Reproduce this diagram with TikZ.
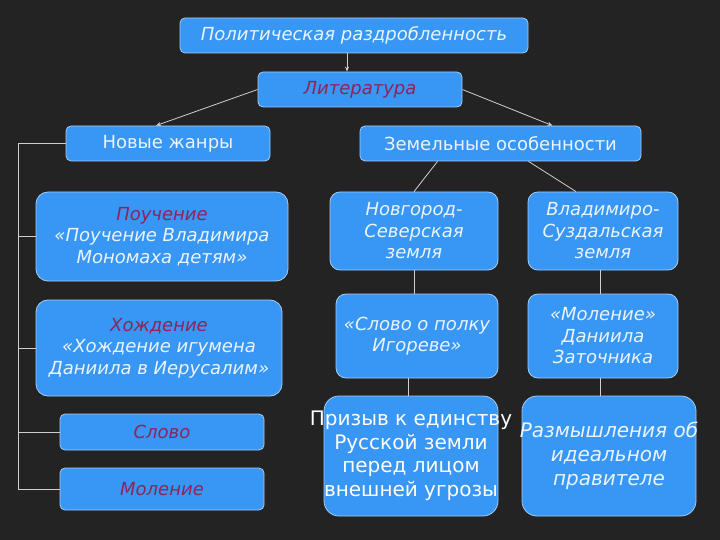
\documentclass[tikz,border=0pt]{standalone}
\usepackage{fontspec}
\setmainfont{DejaVu Sans}
\usetikzlibrary{arrows.meta,positioning}
\definecolor{bgdark}{HTML}{232323}
\definecolor{boxblue}{HTML}{3896F4}
\definecolor{boxline}{HTML}{A4CCF2}
\definecolor{lighttext}{HTML}{EAF4FF}
\definecolor{redtext}{HTML}{8E2458}
\definecolor{linkgray}{HTML}{CFCFCF}
\newcommand{\hl}[1]{\textcolor{redtext}{#1}}
\begin{document}
\begin{tikzpicture}[x=1pt,y=1pt, >={Stealth[length=5pt,width=4pt]},
  box/.style={draw=boxline, line width=0.8pt, fill=boxblue, rounded corners=5pt, align=center,
    text=lighttext, font=\fontsize{18}{21.5}\selectfont, inner sep=2pt},
  bigbox/.style={box, rounded corners=12pt},
  link/.style={draw=linkgray, line width=0.8pt}]
\useasboundingbox[fill=bgdark] (0,0) rectangle (720,-540);
% top of the scheme
\node[box, minimum width=348, minimum height=35, font=\fontsize{18}{21.5}\selectfont\itshape] (polit) at (354,-35.5) {Политическая раздробленность};
\node[box, minimum width=204, minimum height=35, font=\fontsize{18}{21.5}\selectfont\itshape] (lit) at (360,-89.5) {\hl{Литература}};
\draw[link,->] (polit.south -| 347,0) -- (lit.north -| 347,0);
\node[box, minimum width=204, minimum height=35] (genres) at (168,-143.5) {Новые жанры};
\node[box, minimum width=281, minimum height=35] (zem) at (500.5,-143.5) {Земельные особенности};
\draw[link,->] (lit.west) -- ([xshift=-12pt]genres.north);
\draw[link,->] (lit.east) -- ([xshift=52pt]zem.north);
% new genres
\node[bigbox, minimum width=252, minimum height=89, font=\fontsize{18}{21.5}\selectfont\itshape] (pouch) at (162,-236.5) {\hl{Поучение}\\«Поучение Владимира\\Мономаха детям»};
\node[bigbox, minimum width=246, minimum height=96, font=\fontsize{18}{21.5}\selectfont\itshape] (hozh) at (159,-348) {\hl{Хождение}\\«Хождение игумена\\Даниила в Иерусалим»};
\node[box, minimum width=204, minimum height=36, font=\fontsize{18}{21.5}\selectfont\itshape] (slovo) at (162,-432) {\hl{Слово}};
\node[box, minimum width=204, minimum height=42, font=\fontsize{18}{21.5}\selectfont\itshape] (molen) at (162,-489) {\hl{Моление}};
\coordinate (trunk) at (18,-143.5);
\draw[link] (genres.west) -- (trunk);
\foreach \n in {pouch,hozh,slovo,molen}
  \draw[link] (trunk) |- (\n.west);
% lands
\node[bigbox, rounded corners=10pt, minimum width=168, minimum height=78, font=\fontsize{18}{21.5}\selectfont\itshape] (novg) at (414,-231) {Новгород-\\Северская\\земля};
\node[bigbox, rounded corners=10pt, minimum width=150, minimum height=78, font=\fontsize{18}{21.5}\selectfont\itshape] (vlad) at (603,-231) {Владимиро-\\Суздальская\\земля};
\draw[link] ([xshift=-63pt]zem.south) -- (novg.north);
\draw[link] ([xshift=28pt]zem.south) -- ([xshift=-27pt]vlad.north);
\node[bigbox, rounded corners=10pt, minimum width=162, minimum height=84, font=\fontsize{18}{21.5}\selectfont\itshape] (igor) at (417,-336) {«Слово о полку\\Игореве»};
\node[bigbox, rounded corners=10pt, minimum width=150, minimum height=84, font=\fontsize{18}{21.5}\selectfont\itshape] (zatoch) at (603,-336) {«Моление»\\Даниила\\Заточника};
\draw[link] (novg.south) -- (novg.south |- igor.north);
\draw[link] ([xshift=-3pt]vlad.south) -- ([xshift=-3pt]zatoch.north);
\node[bigbox, rounded corners=15pt, minimum width=174, minimum height=120, text=white, font=\fontsize{20}{23.5}\selectfont] (unity) at (411,-456) {\makebox[0pt]{Призыв к единству}\\\makebox[0pt]{Русской земли}\\\makebox[0pt]{перед лицом}\\\makebox[0pt]{внешней угрозы}};
\node[bigbox, rounded corners=15pt, minimum width=174, minimum height=120, font=\fontsize{20}{24}\selectfont\itshape] (ideal) at (609,-456) {\makebox[0pt]{Размышления об}\\\makebox[0pt]{идеальном}\\\makebox[0pt]{правителе}};
\draw[link] (igor.south -| 408,0) -- (unity.north -| 408,0);
\draw[link] (zatoch.south -| 600,0) -- (ideal.north -| 600,0);
\end{tikzpicture}
\end{document}
